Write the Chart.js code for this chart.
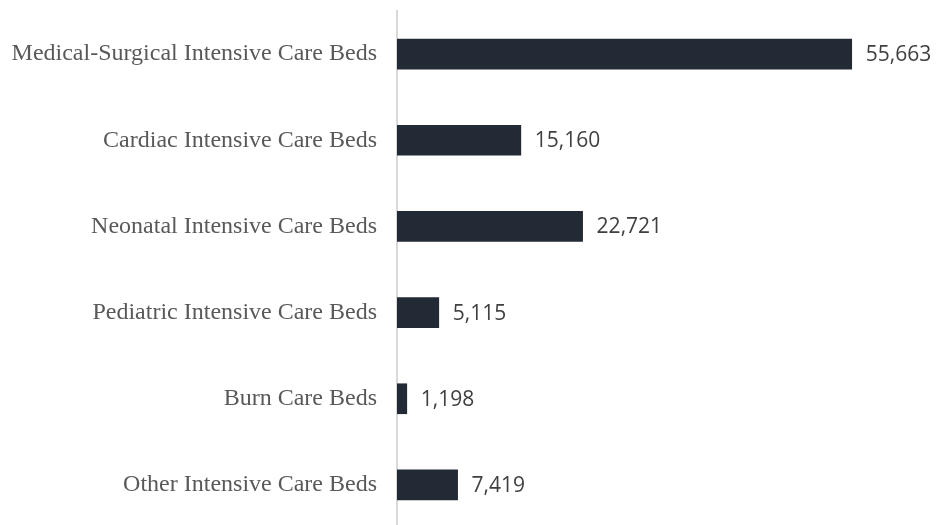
<!DOCTYPE html>
<html>
<head>
<meta charset="utf-8">
<script src="https://cdn.jsdelivr.net/npm/chart.js@4/dist/chart.umd.min.js"></script>
<style>
  html, body { margin: 0; padding: 0; background: #fff; overflow: hidden; }
  #wrap { position: relative; width: 937px; height: 530px; }
</style>
</head>
<body>
<div id="wrap"><canvas id="chart"></canvas></div>
<script>
// ── Data ──────────────────────────────────────────────
const categories = [
  "Medical-Surgical Intensive Care Beds",
  "Cardiac Intensive Care Beds",
  "Neonatal Intensive Care Beds",
  "Pediatric Intensive Care Beds",
  "Burn Care Beds",
  "Other Intensive Care Beds",
];
const bedCounts = [55663, 15160, 22721, 5115, 1198, 7419];

// ── Value labels at the end of each bar ───────────────
const valueLabels = {
  id: "valueLabels",
  afterDatasetsDraw(chart) {
    const ctx = chart.ctx;
    const meta = chart.getDatasetMeta(0);
    ctx.save();
    ctx.font = "21px 'Open Sans'";
    ctx.fillStyle = "#404040";
    ctx.textAlign = "left";
    ctx.textBaseline = "middle";
    meta.data.forEach((bar, i) => {
      ctx.fillText(bedCounts[i].toLocaleString("en-US"), bar.x + 14, bar.y + 1);
    });
    ctx.restore();
  },
};

new Chart(document.getElementById("chart"), {
  type: "bar",
  data: {
    labels: categories,
    datasets: [{
      label: "Beds",
      data: bedCounts,
      backgroundColor: "#222a35",
      barThickness: 30,
    }],
  },
  options: {
    indexAxis: "y",
    responsive: true,
    maintainAspectRatio: false,
    animation: false,
    layout: { padding: { top: 11, bottom: 2, left: 0, right: 9 } },
    plugins: {
      legend: { display: false },
      tooltip: { enabled: false },
    },
    scales: {
      x: {
        display: false,
        min: 0,
        max: 65000,
      },
      y: {
        afterFit(scale) {
          // fixed axis position, no extra label padding above/below
          scale.width = 397;
          scale.paddingTop = 0;
          scale.paddingBottom = 0;
        },
        grid: { display: false, drawTicks: false },
        border: { display: true, color: "#d9d9d9", width: 2 },
        ticks: {
          padding: 20,
          color: "#595959",
          font: { family: "'Liberation Serif'", size: 24 },
        },
      },
    },
  },
  plugins: [valueLabels],
});
</script>
</body>
</html>
